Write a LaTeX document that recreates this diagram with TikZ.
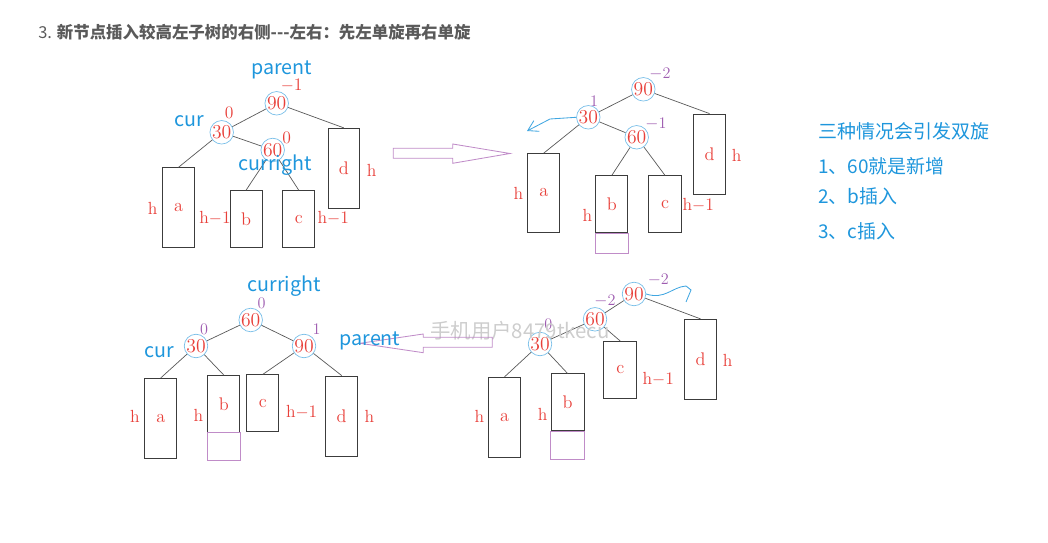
\documentclass[tikz,border=0pt]{standalone}
\usepackage{fontspec}
\newfontfamily\cjk{Noto Sans CJK SC}
\usetikzlibrary{arrows.meta,calc}

\definecolor{keyred}{RGB}{232,64,58}
\definecolor{balpurple}{RGB}{158,92,176}
\definecolor{tagblue}{RGB}{30,150,220}
\definecolor{ringblue}{RGB}{120,190,232}
\definecolor{boxgray}{RGB}{60,60,60}
\definecolor{fatpurple}{RGB}{192,140,200}
\definecolor{titlegray}{RGB}{90,90,90}
\definecolor{markgray}{RGB}{205,205,205}

\begin{document}
\begin{tikzpicture}[
  x=0.25mm, y=-0.25mm,
  >=Stealth,
  key/.style={draw=ringblue,circle,line width=0.5pt,inner sep=0pt,
              minimum size=4.9mm,text=keyred,font=\fontsize{14}{14}\selectfont},
  sub/.style 2 args={draw=boxgray,rectangle,line width=0.6pt,inner sep=0pt,
              minimum width=#1*0.25mm,minimum height=#2*0.25mm,
              text=keyred,font=\fontsize{13}{13}\selectfont},
  ht/.style={text=keyred,font=\fontsize{12.5}{12.5}\selectfont,inner sep=0pt},
  bal/.style={text=balpurple,font=\fontsize{11.5}{11.5}\selectfont,inner sep=0pt},
  tag/.style={text=tagblue,font=\cjk\fontsize{14}{14}\selectfont,inner sep=0pt},
  note/.style={text=tagblue,font=\cjk\fontsize{13.5}{14}\selectfont,inner sep=0pt,anchor=west},
  edge/.style={draw=boxgray!85,line width=0.5pt},
  extra/.style={draw=fatpurple,line width=0.6pt},
  fat/.style={draw=fatpurple,line width=0.6pt},
  scribble/.style={draw=tagblue!85,line width=0.6pt},
]
\useasboundingbox (0,0) rectangle (1048,543);

% title
\node[anchor=west,text=titlegray,inner sep=0pt,font=\cjk\fontsize{11.7}{12}\selectfont] (title) at (38,32)
     {3. \textbf{新节点插入较高左子树的右侧{-}{-}{-}左右：先左单旋再右单旋}};

%% =====================================================
%%  before: new node in right subtree of cur (top left)
%% =====================================================
\node[key] (n90A) at (276.7,103.3) {90};
\node[key] (n30A) at (221.7,132.3) {30};
\node[key] (n60A) at (272.7,150) {60};

\node[sub={32}{80}] (aA) at (178.5,207.7) {a};
\node[sub={32}{57}] (bA) at (246,219.2) {b};
\node[sub={32}{57}] (cA) at (298.8,219.2) {c};
\node[sub={31}{80}] (dA) at (343.8,168.3) {d};

\draw[edge] (n90A) -- (n30A);
\draw[edge] (n90A) -- (dA.north);
\draw[edge] (n30A) -- (aA.north);
\draw[edge] (n30A) -- (n60A);
\draw[edge] (n60A) -- (bA.north);
\draw[edge] (n60A) -- (cA.north);

\node[tag] (parA) at (281.7,70) {parent};
\node[tag] (curA) at (189.3,121) {cur};
\node[tag] (crA) at (275,165) {curright};
\node[ht] (f90A) at (291.7,85) {$-$1};
\node[ht] (f30A) at (229.3,113.3) {0};
\node[ht] (f60A) at (286.7,138.3) {0};
\node[ht] (haA) at (152.7,208) {h};
\node[ht] (hbA) at (215,218.3) {h$-$1};
\node[ht] (hcA) at (333.3,218.3) {h$-$1};
\node[ht] (hdA) at (371.7,170) {h};

% --- arrow to the right ---
\draw[fat] (393.3,148.3) -- (452.7,148.3) -- (452.7,144) -- (510,153.5)
           -- (452.7,163.3) -- (452.7,158.3) -- (393.3,158.3) -- cycle;

%% =====================================================
%%  after insertion: 90 becomes -2 (top right)
%% =====================================================
\node[key] (n90B) at (643.3,89.3) {90};
\node[key] (n30B) at (588.3,117.3) {30};
\node[key] (n60B) at (636.7,137.3) {60};

\node[sub={32}{79}] (aB) at (543.8,193) {a};
\node[sub={32}{57}] (bB) at (611.8,204.3) {b};
\node[sub={33}{57}] (cB) at (665,204.3) {c};
\node[sub={32}{80}] (dB) at (709.5,154) {d};
\draw[extra] (bB.south west) rectangle ($(bB.south east)+(0,20)$);

\draw[edge] (n90B) -- (n30B);
\draw[edge] (n90B) -- (dB.north);
\draw[edge] (n30B) -- (aB.north);
\draw[edge] (n30B) -- (n60B);
\draw[edge] (n60B) -- (bB.north);
\draw[edge] (n60B) -- (cB.north);

\node[bal] (f90B) at (660,74) {$-$2};
\node[bal] (f30B) at (594,100.7) {1};
\node[bal] (f60B) at (656,124) {$-$1};
\node[ht] (haB) at (518.3,193.3) {h};
\node[ht] (hbB) at (587.3,215) {h};
\node[ht] (hcB) at (698.3,205) {h$-$1};
\node[ht] (hdB) at (736.7,155.7) {h};

% left rotation hint
\coordinate (rotL) at (527,131);
\draw[scribble,-{Straight Barb[length=2.5mm,width=3mm]}] (n30B.west) -- (550,119) -- (rotL);

% --- notes ---
\node[note] (why) at (818,131.7) {三种情况会引发双旋};
\node[note] (case1) at (818,166) {1、60就是新增};
\node[note] (case2) at (818,196.7) {2、b插入};
\node[note] (case3) at (818,231.7) {3、c插入};

%% =====================================================
%%  after left rotation on 30 (bottom right)
%% =====================================================
\node[key] (n90C) at (634,294) {90};
\node[key] (n60C) at (595,319.3) {60};
\node[key] (n30C) at (540,344) {30};

\node[sub={32}{80}] (aC) at (504.5,417.3) {a};
\node[sub={33}{57}] (bC) at (567.5,402.3) {b};
\node[sub={33}{57}] (cC) at (620.3,370) {c};
\node[sub={32}{80}] (dC) at (700.5,359.3) {d};
\draw[extra] (bC.south west) rectangle ($(bC.south east)+(0,28)$);

\draw[edge] (n90C) -- (n60C);
\draw[edge] (n90C) -- (dC.north);
\draw[edge] (n60C) -- (n30C);
\draw[edge] (n60C) -- (cC.north);
\draw[edge] (n30C) -- (aC.north);
\draw[edge] (n30C) -- (bC.north);

\node[bal] (f90C) at (658.3,280) {$-$2};
\node[bal] (f60C) at (605,300.7) {$-$2};
\node[bal] (f30C) at (548.3,324) {0};
\node[ht] (haC) at (479.3,416.7) {h};
\node[ht] (hbC) at (542.7,414) {h};
\node[ht] (hcC) at (658.3,379.3) {h$-$1};
\node[ht] (hdC) at (727.7,360) {h};

% right rotation hint
\draw[scribble] (n90C.east) .. controls (665,300) and (672,287) .. (686,286)
                -- (691,290) -- (686,302);

% watermark
\node[anchor=west,text=markgray,inner sep=0pt,font=\cjk\fontsize{14.5}{15}\selectfont] (mark) at (430,331)
     {手机用户8479tkecu};

% --- arrow to the left ---
\draw[fat] (492.3,337.3) -- (423.3,337.3) -- (423.3,334) -- (360,343.3)
           -- (423.3,352.7) -- (423.3,347.3) -- (492.3,347.3) -- cycle;

%% =====================================================
%%  after right rotation on 90 (bottom left)
%% =====================================================
\node[key] (n60D) at (250.7,320) {60};
\node[key] (n30D) at (196,346) {30};
\node[key] (n90D) at (304,346) {90};

\node[sub={32}{80}] (aD) at (160.8,418.3) {a};
\node[sub={32}{57}] (bD) at (223.8,404) {b};
\node[sub={32}{57}] (cD) at (262.8,403.3) {c};
\node[sub={32}{80}] (dD) at (341.7,416) {d};
\draw[extra] (bD.south west) rectangle ($(bD.south east)+(0,28)$);

\draw[edge] (n60D) -- (n30D);
\draw[edge] (n60D) -- (n90D);
\draw[edge] (n30D) -- (aD.north);
\draw[edge] (n30D) -- (bD.north);
\draw[edge] (n90D) -- (cD.north);
\draw[edge] (n90D) -- (dD.north);

\node[tag] (crD) at (284,286) {curright};
\node[tag] (curD) at (159.3,351.7) {cur};
\node[tag] (parD) at (370,340.7) {parent};
\node[bal] (f60D) at (261.7,303.3) {0};
\node[bal] (f30D) at (204,329.3) {0};
\node[bal] (f90D) at (316.7,329.3) {1};
\node[ht] (haD) at (135,416.7) {h};
\node[ht] (hbD) at (198.3,415) {h};
\node[ht] (hcD) at (301.7,411.7) {h$-$1};
\node[ht] (hdD) at (369.3,416.7) {h};

\end{tikzpicture}
\end{document}
